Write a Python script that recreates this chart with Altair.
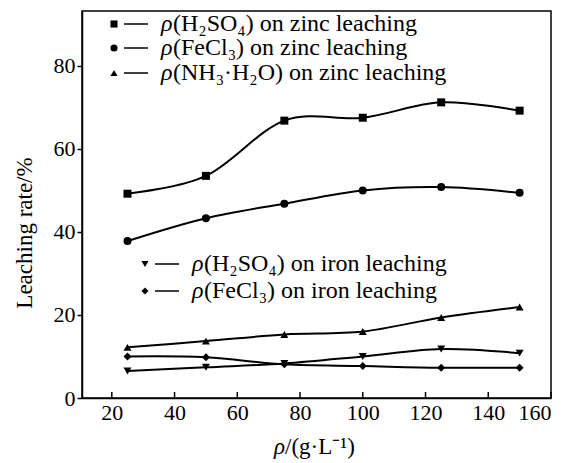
import altair as alt
import pandas as pd

conc = [25, 50, 75, 100, 125, 150]
zn_h2so4 = [49.2, 53.5, 66.8, 67.5, 71.2, 69.2]
zn_fecl3 = [37.8, 43.3, 46.8, 50.0, 50.8, 49.4]
zn_nh3 = [12.2, 13.7, 15.3, 16.0, 19.4, 21.9]
fe_h2so4 = [6.5, 7.4, 8.3, 10.0, 11.8, 10.8]
fe_fecl3 = [10.0, 9.8, 8.1, 7.7, 7.3, 7.3]

series_names = ["zn_h2so4", "zn_fecl3", "zn_nh3", "fe_h2so4", "fe_fecl3"]
series_vals = [zn_h2so4, zn_fecl3, zn_nh3, fe_h2so4, fe_fecl3]
shapes = ["square", "circle", "triangle-up", "triangle-down", "diamond"]
legend_text = [
    "(H₂SO₄) on zinc leaching",
    "(FeCl₃) on zinc leaching",
    "(NH₃·H₂O) on zinc leaching",
    "(H₂SO₄) on iron leaching",
    "(FeCl₃) on iron leaching",
]
x_ticks = [20, 40, 60, 80, 100, 120, 140, 160]
y_ticks = [0, 20, 40, 60, 80]
x_title_rho = "ρ"
x_title_rest = "/(g·L⁻¹)"
y_title = "Leaching rate/%"

rows = []
for name, vals in zip(series_names, series_vals):
    for c, v in zip(conc, vals):
        rows.append({"series": name, "conc": c, "rate": v})
df = pd.DataFrame(rows)

W, H = 469, 387
FONT = "Liberation Serif, Times New Roman, serif"

xs = alt.Scale(domain=[10.5, 160], nice=False)
ys = alt.Scale(domain=[0, 93.2], nice=False)
shape_scale = alt.Scale(domain=series_names, range=shapes)

base = alt.Chart(df)
lines = base.mark_line(interpolate="cardinal", color="black", strokeWidth=2).encode(
    x=alt.X("conc:Q", scale=xs, axis=alt.Axis(
        values=x_ticks, ticks=False, title=None,
        labelFont=FONT, labelFontSize=22, labelColor="black",
        labelPadding=4, domainColor="black", domainWidth=1.5, grid=False)),
    y=alt.Y("rate:Q", scale=ys, axis=alt.Axis(
        values=y_ticks, tickSize=5, tickColor="black", tickWidth=1.5,
        title=None, labelFont=FONT, labelFontSize=22, labelColor="black",
        labelPadding=2, domainColor="black", domainWidth=1.5, grid=False)),
    detail="series:N",
)
points = base.mark_point(filled=True, color="black", opacity=1, size=64).encode(
    x=alt.X("conc:Q", scale=xs),
    y=alt.Y("rate:Q", scale=ys),
    shape=alt.Shape("series:N", scale=shape_scale, legend=None),
)

tick_df = pd.DataFrame({"t": x_ticks})
xticks = alt.Chart(tick_df).mark_rule(color="black", strokeWidth=1.5).encode(
    x=alt.X("t:Q", scale=xs),
    y=alt.value(H),
    y2=alt.value(H - 6),
)

tdf = pd.DataFrame({"rho": [x_title_rho], "rest": [x_title_rest], "yt": [y_title]})
tc = alt.Chart(tdf)
titles = [
    tc.mark_text(font=FONT, fontSize=23, fontStyle="italic", align="right",
                 baseline="alphabetic", color="black").encode(
        x=alt.value(203), y=alt.value(H + 56), text="rho:N"),
    tc.mark_text(font=FONT, fontSize=23, align="left",
                 baseline="alphabetic", color="black").encode(
        x=alt.value(203), y=alt.value(H + 56), text="rest:N"),
    tc.mark_text(font=FONT, fontSize=23, angle=270, align="center",
                 baseline="middle", color="black").encode(
        x=alt.value(-57), y=alt.value(222), text="yt:N"),
]

layers = [lines, points, xticks] + titles

leg_pos = [(32, 13), (32, 37), (32, 62), (63, 253), (63, 280)]
for i, (name, (lx, ly)) in enumerate(zip(series_names, leg_pos)):
    ldf = pd.DataFrame({"series": [name], "label": [legend_text[i]], "rho": ["ρ"]})
    lc = alt.Chart(ldf)
    layers.append(lc.mark_point(filled=True, color="black", opacity=1, size=50).encode(
        x=alt.value(lx), y=alt.value(ly),
        shape=alt.Shape("series:N", scale=shape_scale, legend=None)))
    layers.append(lc.mark_rule(color="black", strokeWidth=1.5).encode(
        x=alt.value(lx + 10), x2=alt.value(lx + 34), y=alt.value(ly)))
    layers.append(lc.mark_text(font=FONT, fontSize=24, fontStyle="italic",
                               align="left", baseline="middle", color="black").encode(
        x=alt.value(lx + 47), y=alt.value(ly), text="rho:N"))
    layers.append(lc.mark_text(font=FONT, fontSize=24, align="left",
                               baseline="middle", color="black").encode(
        x=alt.value(lx + 59), y=alt.value(ly), text="label:N"))

chart = alt.layer(*layers).properties(
    width=W, height=H,
    autosize=alt.AutoSizeParams(type="none"),
    padding={"left": 82, "top": 11, "right": 17, "bottom": 65},
    background="white",
).configure_view(stroke="black", strokeWidth=1.5)

chart.save("out.html", embed_options={"renderer": "svg", "actions": False})
